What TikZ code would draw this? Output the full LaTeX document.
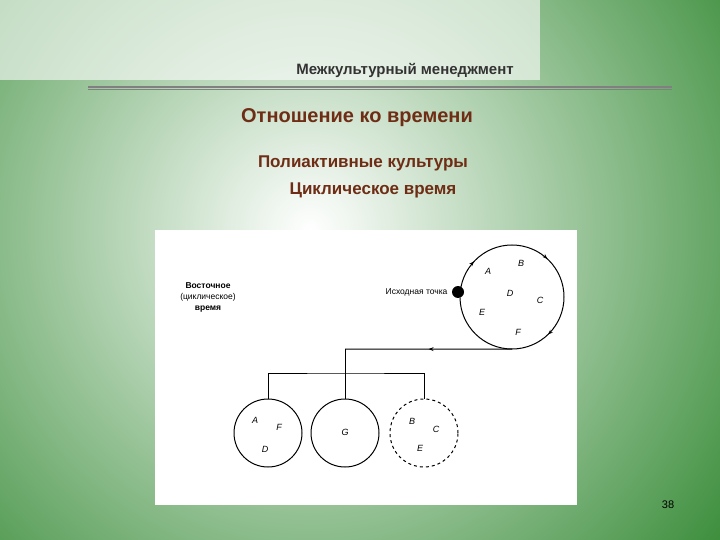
\documentclass[tikz,border=0pt]{standalone}
\usepackage{fontspec}
\setmainfont{Liberation Sans}
\usetikzlibrary{decorations.markings,arrows.meta}
\definecolor{gr}{RGB}{40,130,40}
\definecolor{br}{RGB}{110,45,20}
\begin{document}
\begin{tikzpicture}[x=1pt,y=-1pt,
  lbl/.style={font=\itshape\fontsize{9}{10}\selectfont},
  circ/.style={draw,line width=1pt}]
\useasboundingbox (0,0) rectangle (720,540);
\begin{scope}
\clip (0,0) rectangle (720,540);
\shade[inner color=white, outer color=gr] (-260,-340) rectangle (880,800);
\fill[white, opacity=0.6] (0,0) rectangle (540,80);
\end{scope}
\node[font=\bfseries\fontsize{15}{17}\selectfont, text=black!80] (t) at (405,70) {Межкультурный менеджмент};
\draw[line width=2pt, gray] (88,87) -- (672,87);
\draw[line width=0.6pt, black!50] (88,89.5) -- (672,89.5);
\node[font=\bfseries\fontsize{20}{24}\selectfont, text=br] (h) at (357,118) {Отношение ко времени};
\node[font=\bfseries\fontsize{17}{20}\selectfont, text=br] (s1) at (363,163) {Полиактивные культуры};
\node[font=\bfseries\fontsize{17}{20}\selectfont, text=br] (s2) at (373,190) {Циклическое время};
\fill[white] (155,230) rectangle (577,505);
\node (num) at (668,505) {\fontsize{11}{12}\selectfont 38};
% left label
\node[align=center, font=\fontsize{8.5}{11}\selectfont] (lab) at (208,297) {\textbf{Восточное}\\(циклическое)\\\textbf{время}};
% big circle
\node[circle, minimum width=104pt, inner sep=0] (big) at (512,297) {};
\draw[line width=1pt, postaction={decorate}, decoration={markings,
  mark=at position 0.12 with {\arrow{Stealth[length=5pt]}},
  mark=at position 0.37 with {\arrow{Stealth[length=5pt]}},
  mark=at position 0.63 with {\arrow{Stealth[length=5pt]}}}]
  (460,297) arc[start angle=180, end angle=539, radius=52];
\fill (458,292) circle (6);
\node[anchor=east, font=\fontsize{8.5}{10}\selectfont] (ish) at (451,292) {Исходная точка};
\node[lbl] at (488,271) {A};
\node[lbl] at (521,263) {B};
\node[lbl] at (510,293) {D};
\node[lbl] at (540,300) {C};
\node[lbl] at (482,312) {E};
\node[lbl] at (518,332) {F};
% small circles
\node[circ, circle, minimum width=68pt, inner sep=0] (c1) at (268,433) {};
\node[circ, circle, minimum width=68pt, inner sep=0] (c2) at (345,433) {};
\node[circ, circle, dashed, minimum width=68pt, inner sep=0] (c3) at (424,433) {};
\node[lbl] at (255,420) {A};
\node[lbl] at (279,427) {F};
\node[lbl] at (265,449) {D};
\node[lbl] at (345,432) {G};
\node[lbl] at (412,421) {B};
\node[lbl] at (436,429) {C};
\node[lbl] at (420,448) {E};
% connectors
\coordinate (j) at (345,349);
\draw[line width=1pt, postaction={decorate}, decoration={markings, mark=at position 0.5 with {\arrow{Stealth[length=5pt]}}}] (big.south) -- (j);
\draw[line width=0.8pt] (j) -- (c2.north);
\draw[line width=0.8pt] (c1.north) |- (345,373) -| (c3.north);
\end{tikzpicture}
\end{document}
